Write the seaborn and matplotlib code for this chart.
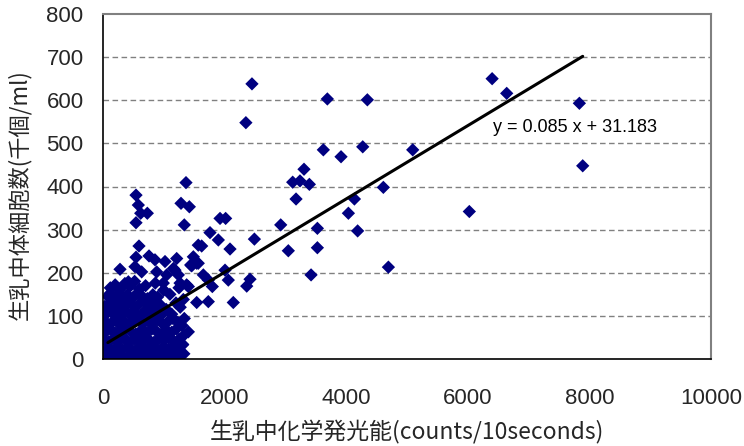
import matplotlib
matplotlib.use("Agg")
import matplotlib.pyplot as plt
import seaborn as sns
import pandas as pd

# ---- data ----
cluster_x = [30, 110, 190, 270, 350, 440, 520, 600, 690, 770, 850, 940, 1020, 1100, 1180, 1260, 1330,
             60, 150, 230, 320, 400, 490, 570, 660, 740, 830, 910, 990, 1080, 1160, 1240, 1310,
             20, 100, 180, 260, 340, 420, 510, 590, 680, 760, 840, 920, 1010, 1090, 1170, 1250, 1330,
             40, 130, 210, 290, 380, 460, 540, 630, 710, 800, 880, 960, 1050, 1130, 1210, 1300,
             20, 90, 170, 250, 330, 410, 490, 570, 650, 740, 820, 900, 990, 1070, 1150, 1230,
             50, 130, 210, 290, 370, 450, 530, 620, 700, 780, 860, 950, 1040, 1130, 1270,
             30, 110, 190, 270, 350, 430, 510, 590, 680, 760, 850, 940, 1200,
             80, 160, 240, 320, 400, 480, 560, 640, 730, 820, 900, 1100,
             120, 200, 280, 360, 440, 520, 600, 700, 860, 1000, 1250]
cluster_y = [8, 4, 10, 6, 3, 9, 5, 11, 4, 8, 3, 10, 6, 9, 4, 7, 12,
             24, 20, 28, 22, 27, 19, 25, 30, 21, 26, 20, 28, 23, 29, 20, 33,
             45, 40, 48, 42, 50, 38, 46, 41, 49, 44, 39, 47, 43, 50, 40, 46, 55,
             62, 68, 60, 66, 70, 63, 58, 67, 61, 69, 64, 58, 66, 62, 70, 78,
             85, 80, 88, 83, 90, 79, 86, 92, 81, 88, 84, 91, 80, 87, 94, 85,
             104, 110, 100, 107, 112, 102, 108, 100, 113, 105, 110, 101, 115, 104, 120,
             122, 128, 120, 130, 124, 133, 121, 127, 135, 123, 130, 126, 130,
             145, 140, 150, 143, 148, 141, 152, 146, 140, 149, 144, 150,
             165, 172, 160, 175, 168, 180, 162, 170, 176, 160, 165]

scatter_x = [115, 280, 417, 526, 636, 543, 757, 592, 855, 883, 1020, 1048, 1158, 1184, 1212, 1239,
             992, 1267, 1310, 1337, 1404, 1321, 1404, 1376,
             543, 581, 620, 729, 543, 1283, 1420, 1337, 1365,
             1442, 1567, 1459, 1486, 1541, 1567, 1623, 1650, 1733, 1798, 1760, 1897, 1925, 2017,
             2007, 2061, 2089, 2143, 1541, 1732, 2418, 2364, 2490,
             2350, 2450, 2923, 3048, 3120, 3240, 3175, 3306, 3394, 3422, 3526, 3526,
             3624, 3690, 3915, 4036, 4135, 4188, 4272, 4348, 4611, 4694, 5094,
             6025, 6400, 6640, 7835, 7890]
scatter_y = [152, 208, 179, 214, 202, 236, 239, 262, 230, 202, 226, 195, 210, 206, 233, 195,
             176, 176, 34, 94, 63, 138, 168, 172,
             380, 357, 338, 338, 316, 361, 353, 311, 409,
             218, 222, 216, 237, 222, 264, 262, 195, 183, 168, 293, 276, 326, 326,
             206, 183, 255, 131, 131, 133, 185, 169, 278,
             548, 638, 311, 251, 410, 413, 371, 440, 405, 195, 303, 258,
             485, 603, 469, 338, 371, 297, 492, 601, 398, 213, 485,
             342, 650, 616, 593, 448]

slope = 0.085
intercept = 31.183
fit_label = "y = 0.085 x + 31.183"
x_label = "生乳中化学発光能(counts/10seconds)"
y_label = "生乳中体細胞数(千個/ml)"
x_ticks = [0, 2000, 4000, 6000, 8000, 10000]
y_ticks = [0, 100, 200, 300, 400, 500, 600, 700, 800]

df = pd.DataFrame({"x": cluster_x + scatter_x, "y": cluster_y + scatter_y})
line_x = [80, max(df["x"])]
line_df = pd.DataFrame({"x": line_x, "y": [slope * v + intercept for v in line_x]})

# ---- style ----
sns.set_style("white")
plt.rcParams["font.family"] = ["Liberation Sans", "Noto Sans CJK JP", "DejaVu Sans"]

fig = plt.figure(figsize=(7.44, 4.46), dpi=100)
ax = fig.add_axes([103 / 744, 1 - 359 / 446, 608 / 744, 345 / 446])

for yv in y_ticks[1:-1]:
    ax.axhline(yv, color="#808080", lw=1.0, ls=(0, (4, 2.5)), zorder=0)

sns.scatterplot(data=df, x="x", y="y", ax=ax, marker="D", s=46, color="#000080",
                edgecolor="none", linewidth=0, zorder=2)
sns.lineplot(data=line_df, x="x", y="y", ax=ax, color="black", lw=2.2, zorder=3)

ax.set_xlim(0, 10000)
ax.set_ylim(0, 800)
ax.set_xticks(x_ticks)
ax.set_yticks(y_ticks)
ax.tick_params(axis="both", direction="in", length=5, width=1, color="black", labelsize=16)
ax.tick_params(axis="x", pad=21)
ax.tick_params(axis="y", pad=14)

for side in ["left", "bottom"]:
    ax.spines[side].set_color("black")
    ax.spines[side].set_linewidth(1.2)
for side in ["top", "right"]:
    ax.spines[side].set_color("#808080")
    ax.spines[side].set_linewidth(1.5)

ax.set_xlabel(x_label, fontsize=16.5, family=["Noto Sans CJK JP", "DejaVu Sans"])
ax.set_ylabel(y_label, fontsize=16, family=["Noto Sans CJK JP", "DejaVu Sans"])
ax.xaxis.set_label_coords(0.5, -0.178)
ax.yaxis.set_label_coords(-0.118, 0.475)

ax.text(6420, 536, fit_label, fontsize=13, ha="left", va="center", color="black")

fig.savefig("out.png", dpi=100)
